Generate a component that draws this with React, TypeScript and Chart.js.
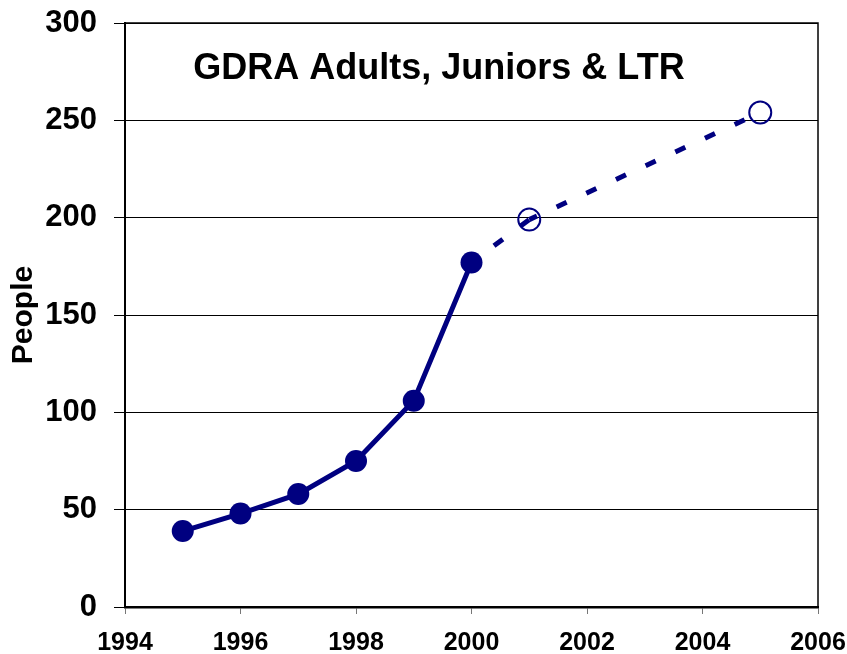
import React, { useEffect, useRef } from "react";
import { Chart, registerables } from "chart.js";

Chart.register(...registerables);

const years = [1995, 1996, 1997, 1998, 1999, 2000];
const people = [39, 48, 58, 75, 106, 177];
const projYears = [2000, 2001, 2005];
const projPeople = [177, 199, 254];
const xTicks = [1994, 1996, 1998, 2000, 2002, 2004, 2006];
const yTicks = [0, 50, 100, 150, 200, 250, 300];
const title = "GDRA Adults, Juniors & LTR";
const yTitle = "People";

const NAVY = "#000080";
const FONT = "'Liberation Sans', Arial, Helvetica, sans-serif";

export default function App() {
  const ref = useRef<HTMLCanvasElement | null>(null);
  useEffect(() => {
    if (!ref.current) return;
    const framePlugin = {
      id: "frame",
      beforeDatasetsDraw(chart: any) {
        const { ctx, chartArea } = chart;
        ctx.save();
        ctx.strokeStyle = "#000";
        ctx.lineWidth = 1.5;
        ctx.strokeRect(chartArea.left, chartArea.top, chartArea.right - chartArea.left, chartArea.bottom - chartArea.top);
        ctx.fillStyle = "#000";
        ctx.font = `bold 36px ${FONT}`;
        ctx.textAlign = "center";
        ctx.textBaseline = "alphabetic";
        ctx.fillText(title, 439, 79);
        ctx.restore();
      },
    };
    const chart = new Chart(ref.current, {
      type: "scatter",
      data: {
        datasets: [
          {
            data: years.map((x, i) => ({ x, y: people[i] })),
            showLine: true,
            borderColor: NAVY,
            backgroundColor: NAVY,
            borderWidth: 5,
            pointRadius: 11,
            pointHoverRadius: 11,
            pointBackgroundColor: NAVY,
            pointBorderColor: NAVY,
            pointBorderWidth: 0,
            order: 1,
          },
          {
            data: projYears.map((x, i) => ({ x, y: projPeople[i] })),
            showLine: true,
            borderColor: NAVY,
            backgroundColor: "rgba(0,0,0,0)",
            borderWidth: 5,
            borderDash: [11, 21.7],
            segment: {
              borderDashOffset: (c: any) => (c.p0DataIndex === 0 ? 4.7 : 2.5),
            },
            pointRadius: [0, 11, 11],
            pointHoverRadius: [0, 11, 11],
            pointBackgroundColor: "rgba(0,0,0,0)",
            pointBorderColor: NAVY,
            pointBorderWidth: 2,
            order: 2,
          },
        ],
      },
      options: {
        animation: false,
        responsive: false,
        maintainAspectRatio: false,
        layout: { padding: { top: 23, right: 29, left: 0, bottom: 0 } },
        plugins: {
          legend: { display: false },
          tooltip: { enabled: false },
          title: { display: false },
        },
        scales: {
          x: {
            type: "linear",
            min: 1994,
            max: 2006,
            afterBuildTicks: (s: any) => {
              s.ticks = xTicks.map((v) => ({ value: v }));
            },
            afterFit: (s: any) => {
              s.height = 654 - 607;
              s.paddingLeft = 0;
              s.paddingRight = 0;
            },
            grid: {
              drawOnChartArea: false,
              drawTicks: true,
              tickLength: 7,
              color: "#777",
            },
            border: { color: "#000", width: 2.5 },
            ticks: {
              color: "#000",
              padding: 14,
              maxRotation: 0,
              font: { family: FONT, size: 25, weight: "bold" },
              callback: (v: any) => String(v),
            },
          },
          y: {
            min: 0,
            max: 300,
            afterBuildTicks: (s: any) => {
              s.ticks = yTicks.map((v) => ({ value: v }));
            },
            afterFit: (s: any) => {
              s.width = 125;
              s.paddingTop = 0;
              s.paddingBottom = 0;
            },
            grid: {
              color: "#000",
              lineWidth: 1,
              tickLength: 11,
              drawTicks: true,
            },
            border: { color: "#000", width: 2 },
            ticks: {
              color: "#000",
              padding: 17,
              font: { family: FONT, size: 31, weight: "bold" },
              callback: (v: any) => String(v),
            },
            title: {
              display: true,
              text: yTitle,
              color: "#000",
              font: { family: FONT, size: 30, weight: "bold" },
              padding: { top: 6, bottom: 0 },
            },
          },
        },
      },
      plugins: [framePlugin],
    } as any);
    return () => chart.destroy();
  }, []);
  return (
    <div style={{ position: "fixed", left: 0, top: 0, width: 847, height: 654, background: "#fff" }}>
      <canvas ref={ref} width={847} height={654} style={{ width: 847, height: 654, display: "block" }} />
    </div>
  );
}
